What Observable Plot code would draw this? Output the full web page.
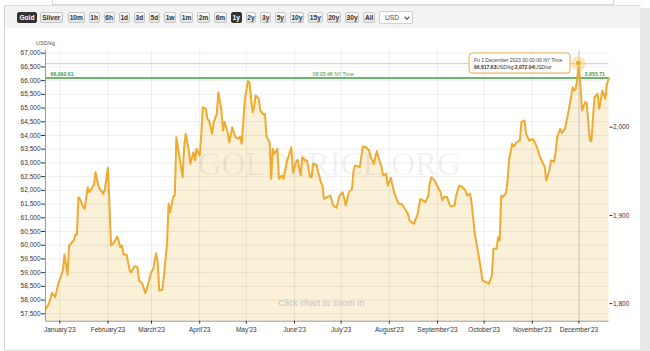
<!DOCTYPE html>
<html><head><meta charset="utf-8">
<script src="https://cdn.jsdelivr.net/npm/d3@7"></script>
<script src="https://cdn.jsdelivr.net/npm/@observablehq/plot@0.6"></script>
<style>
html,body{margin:0;padding:0;background:#fff;width:650px;height:351px;overflow:hidden;font-family:"Liberation Sans",Arial,sans-serif;}
#page{position:relative;width:650px;height:351px;overflow:hidden;}
.topbox{position:absolute;left:52px;top:-1px;width:560px;height:5px;border:1px solid #d9d9d9;border-top:none;background:#fff;}
.panel{position:absolute;left:4px;top:5px;width:636px;height:344px;border-left:1px solid #cfcfcf;border-top:1px solid #dcdcdc;background:#fff;}
.band{position:absolute;left:5px;top:6px;width:635px;height:22px;background:#f3f3f3;}
.rightstrip{position:absolute;left:640px;top:8px;width:10px;height:343px;background:#e9e9e9;}
.bottomstrip{position:absolute;left:4px;top:349px;width:636px;height:2px;background:#ececec;}
.group{position:absolute;top:12px;height:11px;display:flex;align-items:center;}
#metals{left:17px;gap:3px;}
#periods{left:68px;gap:4px;}
.btn{height:11px;box-sizing:border-box;border:1px solid #c6c6c6;border-radius:2px;background:linear-gradient(#fbfbfb,#e4e4e4);font:bold 6.6px "Liberation Sans",Arial,sans-serif;color:#333;padding:0 0.7px;line-height:9px;white-space:nowrap;}
#metals .btn{padding:0 1.4px;}
.btn.on{background:#333;border-color:#333;color:#fff;}
#sel{position:absolute;left:379px;top:11px;width:34px;height:13px;box-sizing:border-box;border:1px solid #cfcfcf;border-radius:2px;background:#fff;font:6.6px "Liberation Sans",Arial,sans-serif;color:#444;line-height:11px;padding-left:5px;}
#sel .chev{position:absolute;left:25px;top:3px;width:3px;height:3px;border-right:1.2px solid #444;border-bottom:1.2px solid #444;transform:rotate(45deg);}
#chart{position:absolute;left:0;top:0;}
</style>
</head><body>
<div id="page">
  <div class="panel"></div>
  <div class="band"></div>
  <div class="topbox"></div>
  <div class="rightstrip"></div>
  <div class="bottomstrip"></div>
  <div id="chart"></div>
  <div id="metals" class="group"></div>
  <div id="periods" class="group"></div>
  <div id="sel"></div>
</div>
<script>
// ---- toolbar labels ----
const metals = ["Gold", "Silver"];
const activeMetal = "Gold";
const periods = ["10m","1h","6h","1d","3d","5d","1w","1m","2m","6m","1y","2y","3y","5y","10y","15y","20y","30y","All"];
const activePeriod = "1y";
const currency = "USD";

// ---- series: gold price in USD/kg ----
const dates = [
"2022-12-23","2022-12-25","2022-12-27","2022-12-29","2022-12-31",
"2023-01-03","2023-01-04","2023-01-06","2023-01-07","2023-01-10","2023-01-11","2023-01-12","2023-01-13","2023-01-14","2023-01-16","2023-01-17","2023-01-19","2023-01-20","2023-01-23","2023-01-24","2023-01-26","2023-01-29","2023-01-30",
"2023-02-01","2023-02-03","2023-02-05","2023-02-07","2023-02-09","2023-02-10","2023-02-11","2023-02-13","2023-02-15","2023-02-16","2023-02-18","2023-02-20","2023-02-21","2023-02-23","2023-02-25","2023-02-26",
"2023-03-01","2023-03-02","2023-03-04","2023-03-05","2023-03-06","2023-03-08","2023-03-09","2023-03-11","2023-03-12","2023-03-13","2023-03-15","2023-03-16","2023-03-17","2023-03-19","2023-03-21","2023-03-22","2023-03-23","2023-03-25","2023-03-26","2023-03-28","2023-03-29","2023-03-30",
"2023-04-01","2023-04-02","2023-04-03","2023-04-05","2023-04-06","2023-04-07","2023-04-09","2023-04-10","2023-04-12","2023-04-13","2023-04-15","2023-04-16","2023-04-17","2023-04-19","2023-04-20","2023-04-22","2023-04-23","2023-04-24","2023-04-26","2023-04-27","2023-04-28","2023-04-30",
"2023-05-02","2023-05-03","2023-05-05","2023-05-06","2023-05-07","2023-05-09","2023-05-10","2023-05-12","2023-05-13","2023-05-14","2023-05-16","2023-05-17","2023-05-18","2023-05-19","2023-05-21","2023-05-22","2023-05-24","2023-05-25","2023-05-27","2023-05-30","2023-05-31",
"2023-06-02","2023-06-03","2023-06-05","2023-06-06","2023-06-08","2023-06-09","2023-06-11","2023-06-12","2023-06-13","2023-06-15","2023-06-16","2023-06-18","2023-06-19","2023-06-20","2023-06-22","2023-06-24","2023-06-26","2023-06-28","2023-06-30",
"2023-07-02","2023-07-04","2023-07-06","2023-07-08","2023-07-09","2023-07-10","2023-07-12","2023-07-13","2023-07-15","2023-07-17","2023-07-19","2023-07-20","2023-07-22","2023-07-24","2023-07-25","2023-07-27","2023-07-28","2023-07-30","2023-07-31",
"2023-08-02","2023-08-04","2023-08-06","2023-08-07","2023-08-09","2023-08-11","2023-08-13","2023-08-14","2023-08-16","2023-08-17","2023-08-18","2023-08-19","2023-08-21","2023-08-23","2023-08-24","2023-08-26","2023-08-27","2023-08-28","2023-08-30","2023-08-31",
"2023-09-03","2023-09-04","2023-09-05","2023-09-07","2023-09-09","2023-09-10","2023-09-12","2023-09-13","2023-09-15","2023-09-17","2023-09-19","2023-09-20","2023-09-22","2023-09-23","2023-09-25","2023-09-26","2023-09-28","2023-09-30",
"2023-10-02","2023-10-04","2023-10-06","2023-10-07","2023-10-09","2023-10-10","2023-10-11","2023-10-12","2023-10-13","2023-10-15","2023-10-16","2023-10-17","2023-10-19","2023-10-20","2023-10-22","2023-10-24","2023-10-25","2023-10-27","2023-10-28","2023-10-30",
"2023-11-01","2023-11-02","2023-11-04","2023-11-06","2023-11-07","2023-11-09","2023-11-10","2023-11-12","2023-11-13","2023-11-15","2023-11-16","2023-11-17","2023-11-19","2023-11-20","2023-11-22","2023-11-24","2023-11-25","2023-11-27","2023-11-28","2023-11-29",
"2023-12-01","2023-12-02","2023-12-03","2023-12-05","2023-12-06","2023-12-08","2023-12-09","2023-12-11","2023-12-13","2023-12-14","2023-12-15","2023-12-16","2023-12-18","2023-12-19","2023-12-20T08:05:48Z"
];
const usdPerKg = [
57680,57865,58265,58105,58590,
59077,59660,58920,59990,60170,60380,60380,61750,61690,61386,61327,62115,61930,62213,62660,62115,61870,62050,
62820,59990,60110,60320,59930,59990,59660,59660,59077,59016,59236,59200,58715,58617,58252,58410,
59053,59100,59710,59380,58350,58375,58895,60050,61510,61204,61790,61812,63937,63208,62480,63573,64060,63453,62968,63390,63088,63514,
63270,63998,65030,64970,64608,64547,64060,64487,64790,65578,64910,64182,64487,64120,63755,64300,64120,63937,63880,63963,63695,65275,
65980,65943,64850,65030,65458,65337,64910,64765,64790,63963,63755,62420,63515,63332,63515,62420,62541,62420,63030,63573,62662,
63028,63114,62541,63208,63090,63090,62480,62480,62968,62940,62724,62297,62176,61690,61750,61812,61447,61362,61812,
61933,61447,61933,62055,62724,62906,62870,62845,63600,63570,63453,63210,62968,63430,63208,62845,62541,62600,62177,
62455,61933,61630,61508,61500,61326,61143,60900,60815,60780,60962,61083,61690,61620,61568,61775,62237,62480,62380,62250,
61933,61630,61750,61770,61447,61410,61447,61812,62176,62120,61995,61812,61870,61508,60415,60110,59442,58713,
58652,58592,58895,59870,59870,60292,60170,61812,61750,61896,62300,63088,63695,63600,63755,63817,64487,64547,64060,63817,
63870,63817,63573,63208,63090,62846,62360,62724,63090,63050,63390,63937,64243,64080,64243,64790,65093,65760,65640,65700,
66617.63,65760,64910,65215,65180,63817,63795,65397,65520,64972,65250,65640,65337,65885,66092.61
];

// ---- axes / labels ----
const monthNames = ["January","February","March","April","May","June","July","August","September","October","November","December"];
const kgTicks = d3.range(57500, 67001, 500);
const ozTicks = [1800, 1900, 2000];
const OZ_PER_KG = 32.1507466;
const leftUnit = "USD/kg";
const current = {kg: 66092.61, oz: 2055.71, time: "08:05:48 NY Time"};
const hover = {date: "2023-12-01", kg: 66617.63, oz: 2072.04, label: "Fri 1 December 2023 00:00:00 NY Time"};
const watermark = "GOLDPRICE.ORG";
const hint = "Click chart to zoom in";

// ---- toolbar ----
const mEl = document.getElementById("metals");
metals.forEach(m => { const b = document.createElement("div"); b.className = "btn" + (m === activeMetal ? " on" : ""); b.textContent = m; mEl.appendChild(b); });
const pEl = document.getElementById("periods");
periods.forEach(p => { const b = document.createElement("div"); b.className = "btn" + (p === activePeriod ? " on" : ""); b.textContent = p; pEl.appendChild(b); });
document.getElementById("sel").innerHTML = currency + '<span class="chev"></span>';

// ---- chart ----
const rows = dates.map((d, i) => ({date: new Date(d.length > 10 ? d : d + "T00:00:00Z"), value: usdPerKg[i]}));
const x0 = new Date("2022-12-22T19:30:00Z"), x1 = new Date("2023-12-20T08:05:48Z");
const yMin = 57230, yMax = 67098;
const monthTicks = d3.utcMonths(new Date("2023-01-01T00:00:00Z"), new Date("2023-12-02T00:00:00Z"));
const green = "#3d9b3d";
const gold = "#efab2f";
const fmt2 = d3.format(",.2f");

const plot = Plot.plot({
  width: 650, height: 351,
  marginLeft: 45, marginRight: 41.5, marginTop: 50, marginBottom: 30.3,
  style: {background: "none", fontFamily: "'Liberation Sans', Arial, sans-serif", fontSize: "6.5px", color: "#333", overflow: "visible"},
  x: {type: "utc", domain: [x0, x1]},
  y: {domain: [yMin, yMax]},
  marks: [
    Plot.areaY(rows, {x: "date", y1: yMin, y2: "value", fill: "#fbf0d8"}),
    Plot.gridY(kgTicks, {stroke: "#000", strokeOpacity: 0.065}),
    Plot.gridX(monthTicks, {stroke: "#000", strokeOpacity: 0.065}),
    Plot.text([watermark], {frameAnchor: "middle", dx: 2, dy: -21, fontSize: 33, fontFamily: "'Liberation Serif', 'DejaVu Serif', serif", fill: "#000", fillOpacity: 0.06}),
    Plot.text([hint], {frameAnchor: "bottom", lineAnchor: "middle", dx: -6, dy: -18, fontSize: 9, fill: "#c4c4c4"}),
    Plot.ruleY([hover.kg], {stroke: "#cccccc", strokeWidth: 1}),
    Plot.ruleX([new Date(hover.date + "T00:00:00Z")], {stroke: "#cccccc", strokeWidth: 1}),
    Plot.ruleY([current.kg], {stroke: green, strokeWidth: 1.5}),
    Plot.lineY(rows, {x: "date", y: "value", stroke: gold, strokeWidth: 2, strokeLinejoin: "round"}),
    Plot.ruleX([x0], {stroke: "#9a9a9a", strokeWidth: 1}),
    Plot.ruleY([yMin], {stroke: "#9a9a9a", strokeWidth: 1}),
    Plot.axisY({ticks: kgTicks, tickFormat: d3.format(","), anchor: "left", tickSize: 4, tickPadding: 1, label: null, fill: "#333"}),
    Plot.axisY({ticks: ozTicks.map(v => v * OZ_PER_KG), tickFormat: d => d3.format(",")(Math.round(d / OZ_PER_KG)), anchor: "right", tickSize: 3, tickPadding: 1, label: null, fill: "#333"}),
    Plot.axisX({ticks: monthTicks, tickFormat: d => monthNames[d.getUTCMonth()] + "'23", tickSize: 3, tickPadding: 3, label: null, fill: "#333"}),
    Plot.text([leftUnit], {frameAnchor: "top-left", dx: -9.5, dy: -9.3, fontSize: 5.5, fill: "#555"}),
    Plot.text([current.kg], {y: d => d, text: d => fmt2(d), frameAnchor: "left", textAnchor: "start", dx: 5, dy: -4.2, fill: green, fontWeight: "bold", fontSize: 5.2}),
    Plot.text([current.kg], {y: d => d, text: () => current.time, frameAnchor: "middle", dx: 6, dy: -4.2, fill: green, fontSize: 5.2}),
    Plot.text([current.kg], {y: d => d, text: () => fmt2(current.oz), frameAnchor: "right", textAnchor: "end", dx: -4, dy: -4.2, fill: green, fontWeight: "bold", fontSize: 5.2})
  ]
});
document.getElementById("chart").appendChild(plot);

// ---- tooltip & hovered point, positioned through Plot's scales ----
const sx = plot.scale("x"), sy = plot.scale("y");
const px = sx.apply(new Date(hover.date + "T00:00:00Z")), py = sy.apply(hover.kg);
const g = d3.select(plot).append("g").attr("text-anchor", "start");
g.append("rect").attr("x", px - 108.4).attr("y", py - 9.2).attr("width", 101).attr("height", 20).attr("rx", 3)
  .attr("fill", "#000").attr("fill-opacity", 0.06);
g.append("rect").attr("x", px - 109.4).attr("y", py - 10.2).attr("width", 101).attr("height", 20).attr("rx", 3)
  .attr("fill", "#fff").attr("fill-opacity", 0.95).attr("stroke", "#e6b04a").attr("stroke-width", 1);
g.append("text").attr("x", px - 104.5).attr("y", py - 1.6).style("font-size", "5px").style("text-anchor", "start").attr("fill", "#444").text(hover.label);
const t2 = g.append("text").attr("x", px - 104.5).attr("y", py + 6).style("font-size", "5px").style("text-anchor", "start").attr("fill", "#333");
t2.append("tspan").attr("font-weight", "bold").text(fmt2(hover.kg));
t2.append("tspan").text("USD/kg ");
t2.append("tspan").attr("font-weight", "bold").text(fmt2(hover.oz));
t2.append("tspan").text("USD/oz");
g.append("circle").attr("cx", px).attr("cy", py).attr("r", 7).attr("fill", "#f2c060").attr("fill-opacity", 0.4);
g.append("circle").attr("cx", px).attr("cy", py).attr("r", 3).attr("fill", gold).attr("stroke", "#fff").attr("stroke-width", 0.6);
</script>
</body></html>
